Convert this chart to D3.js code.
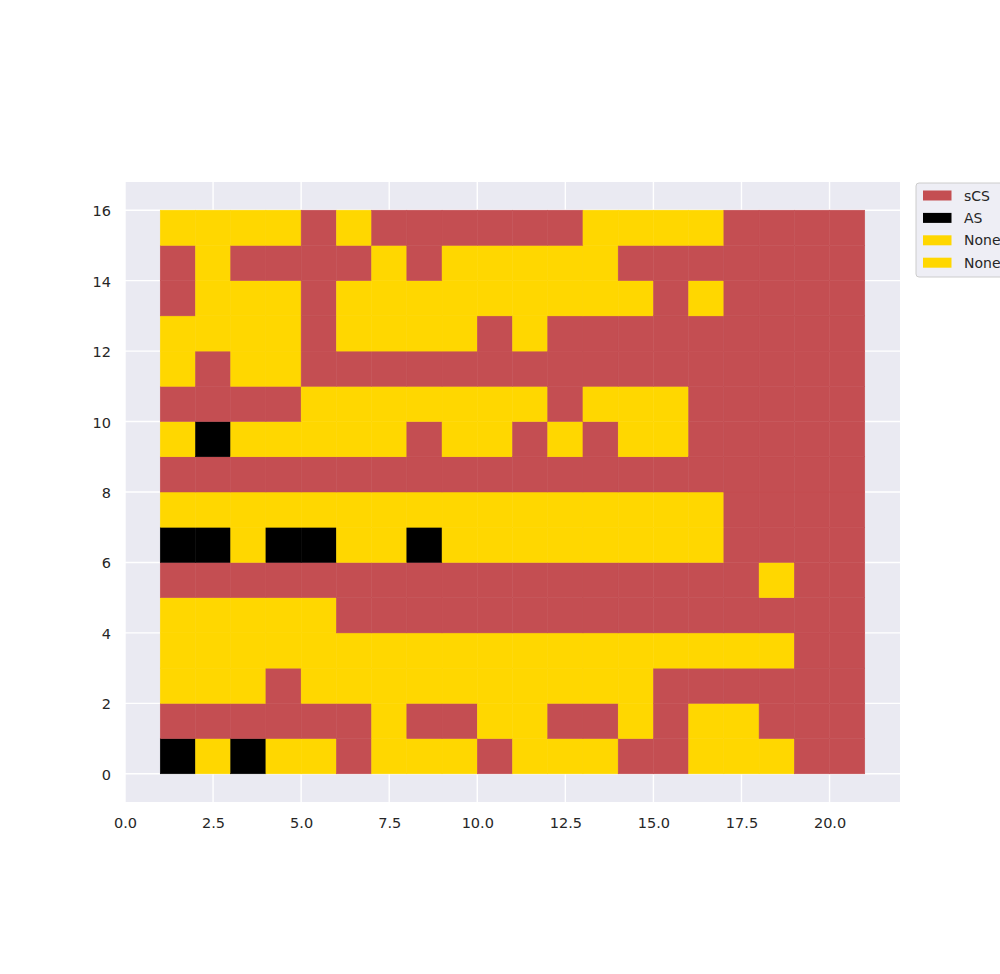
<!DOCTYPE html>
<html>
<head>
<meta charset="utf-8">
<script src="https://cdn.jsdelivr.net/npm/d3@7"></script>
<style>
  body { margin: 0; background: #fff; }
  svg { display: block; font-family: "DejaVu Sans", sans-serif; }
</style>
</head>
<body>
<svg id="chart"></svg>
<script>
// state codes per cell, one string per row, row 0 = bottom (y 0..1), columns x = 1..20
const rows = [
  "ANANNSNNNSNNNSSNNNSS",
  "SSSSSSNSSNNSSNSNNSSS",
  "NNNSNNNNNNNNNNSSSSSS",
  "NNNNNNNNNNNNNNNNNNSS",
  "NNNNNSSSSSSSSSSSSSSS",
  "SSSSSSSSSSSSSSSSSNSS",
  "AANAANNANNNNNNNNSSSS",
  "NNNNNNNNNNNNNNNNSSSS",
  "SSSSSSSSSSSSSSSSSSSS",
  "NANNNNNSNNSNSNNSSSSS",
  "SSSSNNNNNNNSNNNSSSSS",
  "NSNNSSSSSSSSSSSSSSSS",
  "NNNNSNNNNSNSSSSSSSSS",
  "SNNNSNNNNNNNNNSNSSSS",
  "SNSSSSNSNNNNNSSSSSSS",
  "NNNNSNSSSSSSNNNNSSSS"
];
const codes = ["S", "A", "N"];
const codeColors = ["#C44E52", "#000000", "#FFD700"];
const legendLabels = ["sCS", "AS", "None", "None"];
const legendCodes = ["S", "A", "N", "N"];
const xTicks = [0, 2.5, 5, 7.5, 10, 12.5, 15, 17.5, 20];
const yTicks = [0, 2, 4, 6, 8, 10, 12, 14, 16];

const dims = {
  width: 1000,
  height: 974,
  margin: { left: 125, right: 100, top: 182, bottom: 172 }
};
dims.innerWidth = dims.width - dims.margin.left - dims.margin.right;
dims.innerHeight = dims.height - dims.margin.top - dims.margin.bottom;

const cells = [];
rows.forEach((r, yi) => {
  r.split("").forEach((c, xi) => cells.push({ x: xi + 1, y: yi, code: c }));
});

const color = d3.scaleOrdinal().domain(codes).range(codeColors);

const svg = d3.select("#chart")
  .attr("width", dims.width)
  .attr("height", dims.height)
  .attr("viewBox", [0, 0, dims.width, dims.height]);

const base = svg.append("g")
  .attr("transform", `translate(${dims.margin.left},${dims.margin.top})`);

const xScale = d3.scaleLinear().domain([0, 22]).range([0, dims.innerWidth]);
const yScale = d3.scaleLinear().domain([-0.8, 16.8]).range([dims.innerHeight, 0]);

base.append("rect")
  .attr("width", dims.innerWidth)
  .attr("height", dims.innerHeight)
  .attr("fill", "#EAEAF2");

// grid
base.append("g").selectAll("line").data(xTicks).join("line")
  .attr("x1", d => xScale(d)).attr("x2", d => xScale(d))
  .attr("y1", 0).attr("y2", dims.innerHeight)
  .attr("stroke", "#fff").attr("stroke-width", 1.4);
base.append("g").selectAll("line").data(yTicks).join("line")
  .attr("y1", d => yScale(d)).attr("y2", d => yScale(d))
  .attr("x1", 0).attr("x2", dims.innerWidth)
  .attr("stroke", "#fff").attr("stroke-width", 1.4);

// cells
base.append("g").selectAll("rect").data(cells).join("rect")
  .attr("x", d => xScale(d.x))
  .attr("y", d => yScale(d.y + 1))
  .attr("width", d => xScale(d.x + 1) - xScale(d.x))
  .attr("height", d => yScale(d.y) - yScale(d.y + 1))
  .attr("fill", d => color(d.code))
  .attr("stroke", d => color(d.code))
  .attr("stroke-width", 0.5);

// axes
base.append("g")
  .attr("transform", `translate(0,${dims.innerHeight})`)
  .call(d3.axisBottom(xScale).tickValues(xTicks).tickFormat(d3.format(".1f")).tickSize(0).tickPadding(15.5))
  .call(g => {
    g.select(".domain").remove();
    g.selectAll("text").attr("font-size", 14.5).attr("fill", "#262626").attr("font-family", "DejaVu Sans");
  });

base.append("g")
  .call(d3.axisLeft(yScale).tickValues(yTicks).tickFormat(d3.format("d")).tickSize(0).tickPadding(14))
  .call(g => {
    g.select(".domain").remove();
    g.selectAll("text").attr("font-size", 14.5).attr("fill", "#262626").attr("font-family", "DejaVu Sans")
      .attr("dy", "0.38em");
  });

// legend
const legend = svg.append("g").attr("transform", "translate(916,183)");
legend.append("rect")
  .attr("width", 110).attr("height", 94)
  .attr("rx", 3)
  .attr("fill", "#EAEAF2").attr("fill-opacity", 0.8)
  .attr("stroke", "#CCCCCC").attr("stroke-width", 1);
legendLabels.forEach((lab, i) => {
  const row = legend.append("g").attr("transform", `translate(0,${12.5 + i * 22.4})`);
  row.append("rect")
    .attr("x", 7).attr("y", -5).attr("width", 28.5).attr("height", 10)
    .attr("fill", color(legendCodes[i]));
  row.append("text")
    .attr("x", 48).attr("y", 5)
    .attr("font-size", 14).attr("fill", "#262626")
    .text(lab);
});
</script>
</body>
</html>
